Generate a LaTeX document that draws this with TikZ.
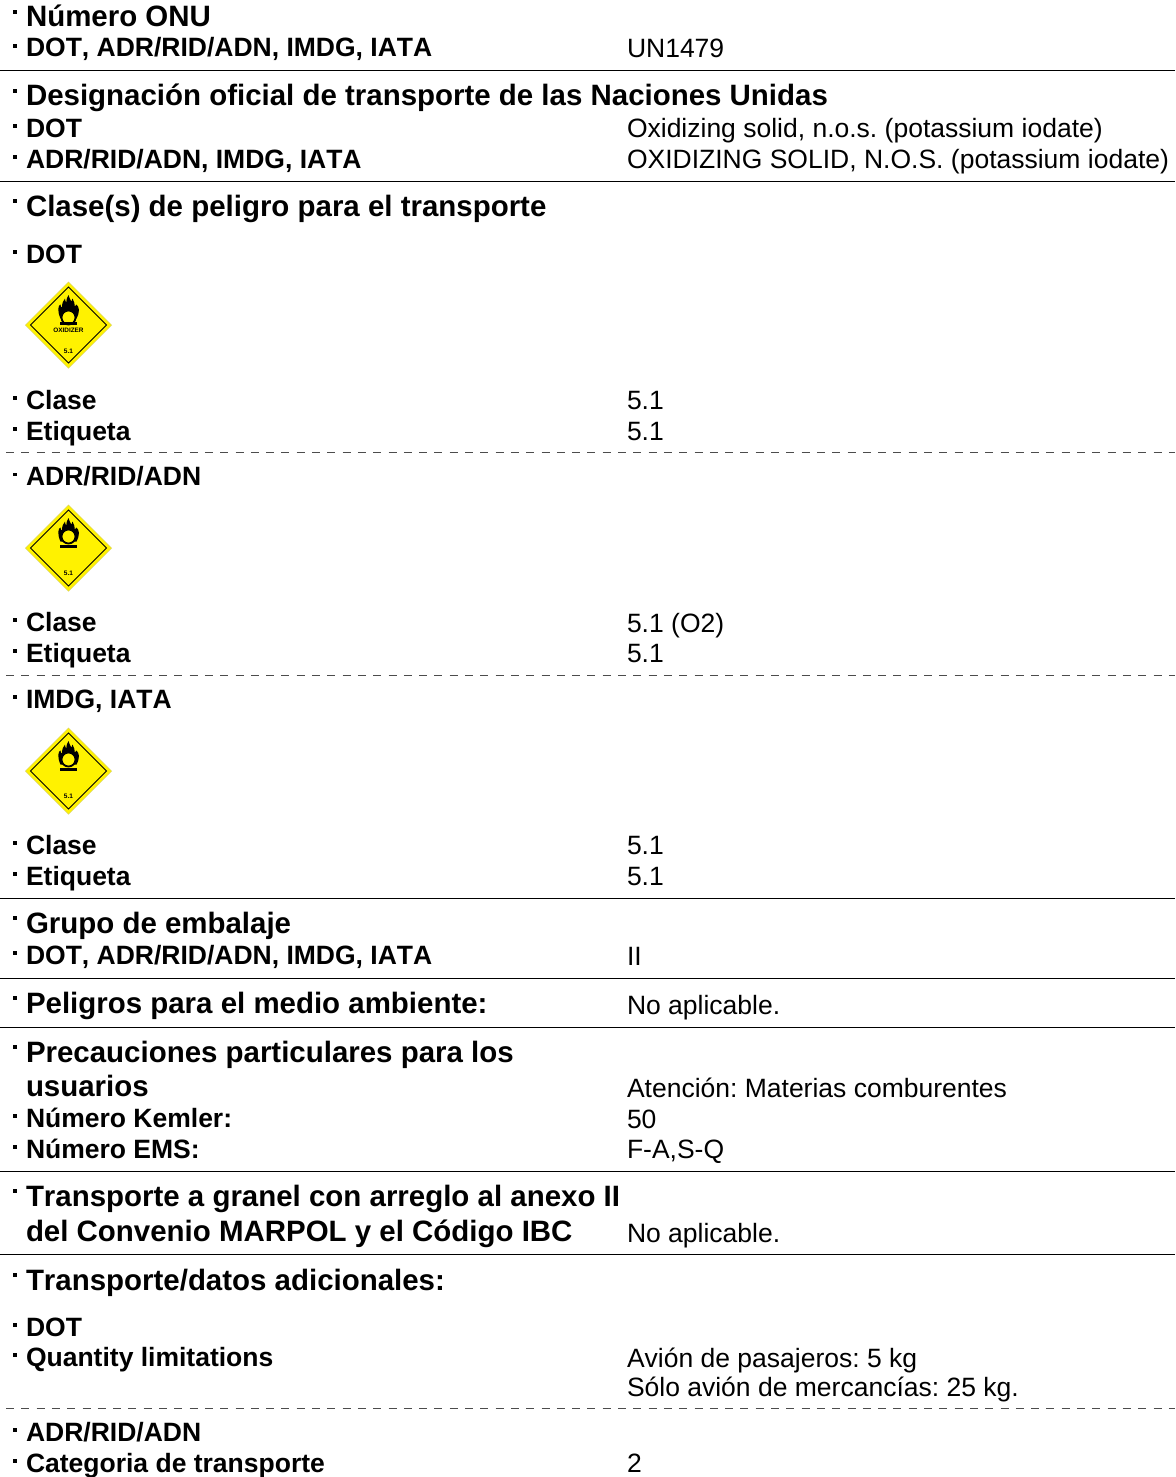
\documentclass[tikz,border=0pt]{standalone}
\usepackage{fontspec}
\setmainfont[Kerning=Off]{Liberation Sans}
\newcommand{\szbig}{\fontsize{29.45}{34}\selectfont\bfseries\frenchspacing}
\newcommand{\szsm}{\fontsize{26.5}{30}\selectfont\bfseries\frenchspacing}
\newcommand{\szval}{\fontsize{26.5}{30}\selectfont\frenchspacing}
\tikzset{
  x=1pt,y=-1pt,
  txt/.style={anchor=base west,inner sep=0pt,outer sep=0pt},
  head/.style={txt,font=\szbig},
  lab/.style={txt,font=\szsm},
  val/.style={txt,font=\szval},
  rule/.style={draw=black,line width=1.5pt},
  dashrule/.style={draw=black!70,line width=1.1pt,dash pattern=on 8pt off 7.3pt,dash phase=-6pt},
  bullet/.style={fill=black,inner sep=0pt,minimum size=3.6pt,rectangle},
}
% head / label rows with their raised dot
\newcommand{\Hd}[2]{\node[bullet] at (15,#1-15) {};\node[head] at (26,#1) {#2};}
\newcommand{\Lb}[2]{\node[bullet] at (15,#1-11) {};\node[lab] at (26,#1) {#2};}
\newcommand{\Vl}[2]{\node[val] at (627,#1) {#2};}
% hazard placard centred at (68.5,#1); #2 ring centre; #3 printed labels
\newcommand{\Placard}[3]{%
\begin{scope}[shift={(68.5,#1)}]
  \fill[yellow!80!black!75] (0,-43.5)--(43.5,0)--(0,43.5)--(-43.5,0)--cycle;
  \fill[yellow] (0,-42.5)--(42.5,0)--(0,42.5)--(-42.5,0)--cycle;
  \draw[black,line width=.9pt,line join=miter] (0,-38)--(38,0)--(0,38)--(-38,0)--cycle;
  \begin{scope}[shift={(0,-7.5)},xscale=1.15]
    \fill[black] (-7,1) .. controls (-10,-7) and (-9,-12) .. (-7,-13)
      .. controls (-7,-11) and (-6,-10) .. (-5.5,-10)
      .. controls (-6,-14) and (-4.5,-17) .. (-3,-19)
      .. controls (-3,-17) and (-2.5,-15.5) .. (-2,-15)
      .. controls (-2,-18) and (-1,-21) .. (0,-22.5)
      .. controls (0.5,-20) and (1.5,-18) .. (2.5,-16)
      .. controls (3,-17) and (3.5,-18) .. (3.5,-19)
      .. controls (5,-16) and (5.5,-13) .. (5.5,-11)
      .. controls (6,-11.5) and (6.5,-12) .. (7,-13)
      .. controls (9.5,-10) and (10,-6) .. (7,1)
      -- cycle;
  \end{scope}
  \draw[black,line width=1.8pt,fill=yellow] (0,#2) circle (7);
  \fill[black] (-8.5,-3) rectangle (8.5,-0.5);
  #3
\end{scope}}
\begin{document}
\begin{tikzpicture}
\useasboundingbox (0,0) rectangle (1175,1477);
\fill[white] (0,0) rectangle (1175,1477);

\Hd{27}{Número ONU}
\Lb{57}{DOT, ADR/RID/ADN, IMDG, IATA}
\Vl{58}{UN1479}
\draw[rule] (0,70.5)--(1175,70.5);

\Hd{106}{Designación oficial de transporte de las Naciones Unidas}
\Lb{137}{DOT}
\Vl{137}{Oxidizing solid, n.o.s. (potassium iodate)}
\Lb{168}{ADR/RID/ADN, IMDG, IATA}
\Vl{168}{OXIDIZING SOLID, N.O.S. (potassium iodate)}
\draw[rule] (0,181.5)--(1175,181.5);

\Hd{216}{Clase(s) de peligro para el transporte}
\Lb{263}{DOT}
\Placard{325}{-7.5}{%
  \node[font=\fontsize{6.4}{7}\selectfont\bfseries,inner sep=0pt] at (0,5) {OXIDIZER};
  \node[font=\fontsize{6.5}{8}\selectfont\bfseries,inner sep=0pt] at (0,26) {5.1};}
\Lb{409}{Clase}
\Vl{409}{5.1}
\Lb{440}{Etiqueta}
\Vl{440}{5.1}
\draw[dashrule] (0,452.5)--(1175,452.5);

\Lb{485.5}{ADR/RID/ADN}
\Placard{548}{-11.5}{%
  \node[font=\fontsize{6.5}{8}\selectfont\bfseries,inner sep=0pt] at (0,25) {5.1};}
\Lb{631}{Clase}
\Vl{632}{5.1 (O2)}
\Lb{662}{Etiqueta}
\Vl{662}{5.1}
\draw[dashrule] (0,675.5)--(1175,675.5);

\Lb{708}{IMDG, IATA}
\Placard{771}{-11.5}{%
  \node[font=\fontsize{6.5}{8}\selectfont\bfseries,inner sep=0pt] at (0,25) {5.1};}
\Lb{854}{Clase}
\Vl{854}{5.1}
\Lb{885}{Etiqueta}
\Vl{885}{5.1}
\draw[rule] (0,898.5)--(1175,898.5);

\Hd{933}{Grupo de embalaje}
\Lb{964}{DOT, ADR/RID/ADN, IMDG, IATA}
\Vl{965}{II}
\draw[rule] (0,978.5)--(1175,978.5);

\Hd{1013}{Peligros para el medio ambiente:}
\Vl{1014}{No aplicable.}
\draw[rule] (0,1027.5)--(1175,1027.5);

\Hd{1062}{Precauciones particulares para los}
\node[head] at (26,1096) {usuarios};
\Vl{1097}{Atención: Materias comburentes}
\Lb{1127}{Número Kemler:}
\Vl{1128}{50}
\Lb{1158}{Número EMS:}
\Vl{1158}{F-A,S-Q}
\draw[rule] (0,1171.5)--(1175,1171.5);

\Hd{1206}{Transporte a granel con arreglo al anexo II}
\node[head] at (26,1241) {del Convenio MARPOL y el Código IBC};
\Vl{1242}{No aplicable.}
\draw[rule] (0,1254.5)--(1175,1254.5);

\Hd{1290}{Transporte/datos adicionales:}
\Lb{1336}{DOT}
\Lb{1366}{Quantity limitations}
\Vl{1367}{Avión de pasajeros: 5 kg}
\Vl{1396}{Sólo avión de mercancías: 25 kg.}
\draw[dashrule] (0,1408.5)--(1175,1408.5);

\Lb{1441}{ADR/RID/ADN}
\Lb{1472}{Categoria de transporte}
\Vl{1472}{2}
\end{tikzpicture}
\end{document}
